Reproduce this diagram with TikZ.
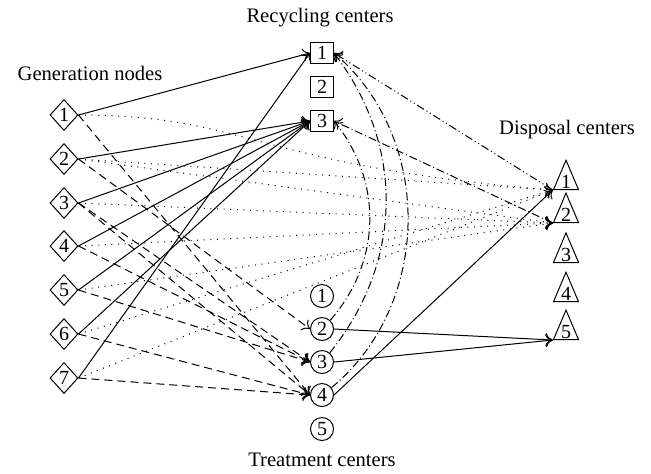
\documentclass[tikz,border=0pt]{standalone}
\usepackage{fontspec}
\setmainfont{Liberation Serif}
\usepackage{tikz}
\usetikzlibrary{shapes.geometric, arrows.meta, positioning}
\tikzset{
  genbox/.style={diamond, draw, line width=0.5pt, inner sep=0pt, minimum width=14pt, minimum height=15.5pt, font=\fontsize{10}{12}\selectfont},
  recbox/.style={rectangle, draw, line width=0.5pt, inner sep=0pt, minimum width=11.5pt, minimum height=10.5pt, font=\fontsize{10}{12}\selectfont},
  treatbox/.style={circle, draw, line width=0.5pt, inner sep=0pt, minimum size=11.5pt, font=\fontsize{10}{12}\selectfont},
  dispbox/.style={isosceles triangle, shape border rotate=90, isosceles triangle apex angle=46, draw, line width=0.5pt, inner sep=0.5pt, anchor=lower side, font=\fontsize{10}{12}\selectfont},
  titlelabel/.style={font=\fontsize{10.3}{12}\selectfont},
  arrow/.style={-{To[length=3.6pt,width=6.5pt]}, line width=0.5pt},
  dashedarrow/.style={arrow, dash pattern=on 4pt off 2.5pt},
  dottedarrow/.style={arrow, dash pattern=on 0.5pt off 2.8pt},
  dashdotarrow/.style={arrow, dash pattern=on 4pt off 1.5pt on 0.5pt off 1.5pt},
  dashdotdotarrow/.style={arrow, dash pattern=on 4pt off 1.5pt on 0.5pt off 1.5pt on 0.5pt off 1.5pt}
}

\begin{document}
\begin{tikzpicture}[x=0.5pt, y=-0.5pt]
  \useasboundingbox (0,0) rectangle (651,473);

  % generation nodes
  \node[titlelabel] (gentitle) at (90,73) {Generation nodes};
  \node[genbox] (G1) at (64,115) {1};
  \node[genbox] (G2) at (64,159) {2};
  \node[genbox] (G3) at (64,203) {3};
  \node[genbox] (G4) at (64,246) {4};
  \node[genbox] (G5) at (64,290) {5};
  \node[genbox] (G6) at (64,334) {6};
  \node[genbox] (G7) at (64,378) {7};

  % recycling centers
  \node[titlelabel] (rectitle) at (320,18) {Recycling centers};
  \node[recbox] (R1) at (322,53) {1};
  \node[recbox] (R2) at (322,87) {2};
  \node[recbox] (R3) at (322,121) {3};

  % treatment centers
  \node[treatbox] (T1) at (322,296) {1};
  \node[treatbox] (T2) at (322,329) {2};
  \node[treatbox] (T3) at (322,362) {3};
  \node[treatbox] (T4) at (322,395) {4};
  \node[treatbox] (T5) at (322,429) {5};
  \node[titlelabel] (treattitle) at (322,460) {Treatment centers};

  % disposal centers
  \node[titlelabel] (disptitle) at (567,130) {Disposal centers};
  \node[dispbox] (D1) at (566,190) {1};
  \node[dispbox] (D2) at (566,223) {2};
  \node[dispbox] (D3) at (566,263) {3};
  \node[dispbox] (D4) at (566,302) {4};
  \node[dispbox] (D5) at (566,340) {5};

  % generation -> recycling
  \draw[arrow] (G1.east) -- (R1.west);
  \draw[arrow] (G2.east) -- (R3.west);
  \draw[arrow] (G3.east) -- (R3.west);
  \draw[arrow] (G4.east) -- (R3.west);
  \draw[arrow] (G5.east) -- (R3.west);
  \draw[arrow] (G6.east) -- (R3.west);
  \draw[arrow] (G7.east) -- (R1.west);

  % generation -> treatment
  \draw[dashedarrow] (G1.east) -- (T4.west);
  \draw[dashedarrow] (G2.east) -- (T2.west);
  \draw[dashedarrow] (G3.east) -- (T3.west);
  \draw[dashedarrow] (G3.east) -- (T4.west);
  \draw[dashedarrow] (G4.east) -- (T3.west);
  \draw[dashedarrow] (G5.east) -- (T3.west);
  \draw[dashedarrow] (G6.east) -- (T4.west);
  \draw[dashedarrow] (G7.east) -- (T4.west);

  % generation -> disposal
  \draw[dottedarrow] (G1.east) .. controls (250,115) and (250,165) .. (D1.left corner);
  \draw[dottedarrow] (G2.east) -- (D1.left corner);
  \draw[dottedarrow] (G2.east) -- (D2.left corner);
  \draw[dottedarrow] (G3.east) -- (D2.left corner);
  \draw[dottedarrow] (G4.east) -- (D2.left corner);
  \draw[dottedarrow] (G5.east) -- (D2.left corner);
  \draw[dottedarrow] (G6.east) -- (D1.left corner);
  \draw[dottedarrow] (G7.east) -- (D1.left corner);

  % treatment -> disposal
  \draw[arrow] (T2.east) -- (D5.left corner);
  \draw[arrow] (T3.east) -- (D5.left corner);
  \draw[arrow] (T4.east) -- (D1.left corner);

  % treatment / disposal -> recycling
  \draw[dashdotarrow] (T2) to[bend right=40] (R3.east);
  \draw[dashdotarrow] (T3) to[bend right=38] (R1.east);
  \draw[dashdotarrow] (T4) to[bend right=50] (R1.east);
  \draw[dashdotdotarrow] (D1.left corner) -- (R1.east);
  \draw[dashdotarrow] (D2.left corner) -- (R3.east);
\end{tikzpicture}
\end{document}
